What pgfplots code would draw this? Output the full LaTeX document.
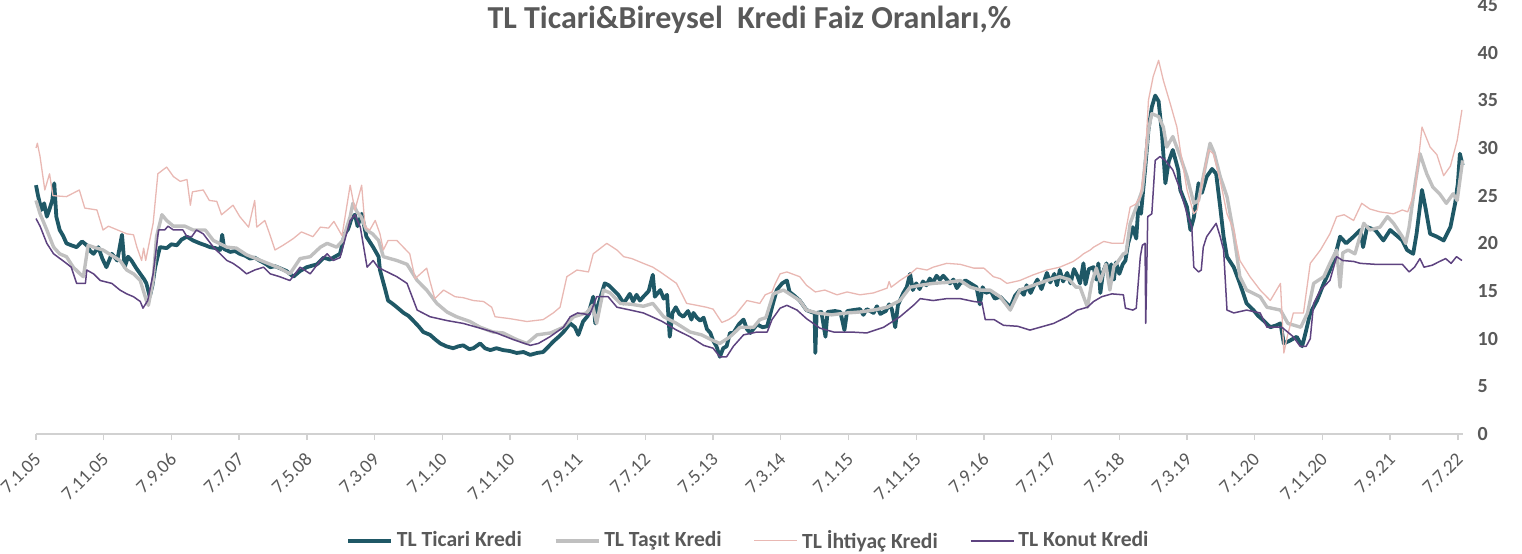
\documentclass[border=0pt]{standalone}
\usepackage{fontspec}
\setmainfont{Carlito}
\usepackage{pgfplots}
\pgfplotsset{compat=1.18}
\definecolor{ticari}{HTML}{1F5866}
\definecolor{tasit}{HTML}{C0C0C0}
\definecolor{ihtiyac}{HTML}{E9B8B3}
\definecolor{konut}{HTML}{5E4380}
\definecolor{txt}{HTML}{595959}
\begin{document}
\begin{tikzpicture}
\path[use as bounding box] (-18pt,-59.5pt) rectangle (743pt,217pt);
\begin{axis}[
 at={(0,0)}, anchor=south west,
 scale only axis, width=713.3pt, height=214.5pt,
 xmin=0, xmax=210.7, ymin=0, ymax=45,
 axis x line*=bottom, axis y line*=right,
 x axis line style={draw=black!18, line width=0.7pt, -},
 y axis line style={draw=none},
 xtick={0,10,...,210},
 xticklabels={7.1.05,7.11.05,7.9.06,7.7.07,7.5.08,7.3.09,7.1.10,7.11.10,7.9.11,7.7.12,7.5.13,7.3.14,7.1.15,7.11.15,7.9.16,7.7.17,7.5.18,7.3.19,7.1.20,7.11.20,7.9.21,7.7.22},
 ytick={0,5,...,45},
 tick align=outside, major tick length=3pt,
 xtick style={draw=black!18, line width=0.7pt},
 ytick style={draw=none},
 xticklabel style={yshift=-8pt, xshift=1pt, rotate=45, anchor=east, font=\fontsize{9.5}{10}\selectfont, text=txt, inner sep=0pt},
 yticklabel style={font=\fontsize{10}{12}\selectfont\bfseries, text=txt, anchor=west, xshift=1pt},
 /pgf/number format/assume math mode=true,
 legend style={at={(0.5,-0.249)}, anchor=center, draw=none, fill=none, legend columns=4,
   font=\fontsize{10.8}{12}\selectfont\bfseries, text=txt,
   /tikz/every even column/.append style={column sep=14pt}},
 legend image code/.code={\draw[#1] (0pt,0pt) -- (21.5pt,0pt);},
 clip=false,
 every axis plot/.append style={line join=round, mark=none},
]
\addplot[ticari, line width=1.9pt] coordinates {
(0,26.1)(0.3,25.0)(0.8,23.5)(1.2,24.2)(1.6,22.8)(2.0,23.6)(2.4,24.5)(2.7,26.3)(3.0,22.8)(3.5,21.4)(4.0,20.8)(4.5,20.0)(5.2,19.8)(6.0,19.6)(6.8,20.2)(7.5,19.8)(8.0,19.2)(8.5,18.9)(9.2,19.6)(9.8,18.4)(10.4,17.5)(11.2,18.9)(12.0,18.2)(12.7,20.9)(13.1,17.5)(13.6,18.6)(14.1,18.2)(14.8,17.4)(15.4,16.8)(16.0,16.2)(16.3,15.8)(16.8,14.4)(17.2,15.6)(17.6,17.5)(18.3,19.6)(19.3,19.5)(20.0,19.9)(20.8,19.8)(21.5,20.4)(22.3,20.7)(23.2,20.3)(24.2,20.0)(25.0,19.8)(25.7,19.6)(26.5,19.5)(27.2,19.3)(27.5,20.9)(27.8,19.4)(28.7,19.1)(29.4,19.2)(30.1,18.9)(30.9,18.7)(31.6,18.4)(32.3,18.5)(33.0,18.2)(33.8,17.9)(34.6,17.5)(35.3,17.6)(36.0,17.4)(37.0,17.1)(38.0,16.5)(39.0,17.1)(40.0,17.5)(41.5,17.8)(42.5,18.5)(43.4,18.3)(43.9,18.5)(44.9,18.9)(45.6,21.0)(46.1,21.5)(46.6,22.6)(47.1,23.0)(47.5,21.8)(48.1,23.1)(48.8,20.7)(49.8,19.6)(50.6,18.6)(50.8,17.2)(51.6,15.1)(52.0,14.0)(52.6,13.7)(53.3,13.3)(54.3,12.7)(55.0,12.4)(55.7,11.9)(56.5,11.3)(57.2,10.7)(58.2,10.4)(59.0,9.9)(59.7,9.5)(60.6,9.2)(61.6,9.0)(62.4,9.2)(63.1,9.3)(64.0,8.9)(64.6,9.0)(65.6,9.5)(66.3,9.0)(67.1,8.8)(68.0,9.0)(69.0,8.8)(70.0,8.7)(71.0,8.5)(72.0,8.6)(73.0,8.3)(74.0,8.5)(74.9,8.6)(75.6,9.1)(76.4,9.7)(77.2,10.2)(77.9,10.7)(78.9,11.6)(79.6,11.2)(80.1,10.4)(80.8,11.8)(81.5,12.4)(82.3,14.4)(82.6,11.6)(83.0,13.5)(84.0,15.8)(84.6,15.6)(85.3,15.1)(86.0,14.6)(86.8,13.7)(87.7,14.7)(88.2,13.9)(88.7,14.6)(89.2,14.0)(89.7,14.4)(90.5,15.0)(91.1,16.7)(91.4,14.4)(92.2,15.1)(92.7,14.2)(93.2,14.6)(93.6,10.2)(94.0,12.7)(94.5,13.3)(95.0,12.6)(95.6,12.3)(96.3,12.9)(96.8,12.0)(97.1,12.7)(97.6,12.2)(98.1,11.9)(98.6,12.2)(99.1,11.0)(99.6,10.6)(100.0,9.8)(100.5,9.2)(101.0,8.1)(101.5,9.0)(102.0,9.2)(102.5,10.6)(103.0,10.6)(103.8,11.5)(104.5,12.0)(105.0,11.0)(105.5,10.6)(106.5,11.5)(107.3,11.2)(108.0,11.3)(108.7,13.3)(109.4,15.1)(110.2,15.8)(110.9,16.1)(111.3,14.9)(112.0,14.5)(112.8,14.0)(113.8,13.0)(114.5,12.8)(115.0,12.7)(115.1,8.5)(115.3,12.7)(116.0,12.8)(116.6,10.2)(116.9,12.8)(118.0,12.9)(118.8,12.8)(119.4,10.9)(119.8,12.9)(120.7,13.0)(121.7,13.1)(122.2,12.5)(122.7,13.1)(123.7,12.7)(124.2,13.4)(124.7,12.6)(125.5,12.9)(126.0,13.6)(126.4,13.1)(126.9,11.2)(127.3,13.5)(127.6,14.0)(128.1,14.8)(128.6,15.4)(129.1,16.8)(129.5,15.1)(130.0,15.8)(130.5,15.2)(131.0,16.0)(131.5,15.6)(132.0,16.3)(132.5,15.9)(133.0,16.6)(133.5,16.2)(134.0,16.6)(134.5,16.2)(135.0,15.8)(135.5,16.2)(136.0,15.3)(136.5,15.8)(137.3,16.1)(138.0,15.8)(138.9,15.4)(139.4,13.6)(139.8,15.4)(140.3,14.8)(141.0,15.0)(141.6,14.2)(142.4,14.4)(143.2,13.8)(143.9,13.3)(144.6,14.5)(145.3,15.1)(145.9,14.6)(146.3,15.6)(146.9,14.8)(147.3,15.4)(147.9,16.2)(148.5,15.2)(149.3,16.9)(149.8,15.9)(150.4,16.8)(150.8,15.6)(151.2,17.2)(151.7,16.0)(152.3,16.9)(152.8,15.8)(153.3,17.3)(153.8,16.6)(154.2,15.8)(154.7,17.9)(155.0,15.7)(155.5,17.3)(156.2,17.5)(156.6,16.2)(156.9,17.9)(157.2,14.8)(157.6,17.0)(158.1,17.9)(158.5,16.3)(158.8,17.8)(159.2,16.2)(159.5,18.0)(160.0,16.8)(160.5,17.8)(160.9,18.2)(161.3,20.0)(162.0,21.7)(162.5,20.5)(162.8,23.8)(163.2,23.1)(163.8,27.7)(164.3,31.9)(164.8,34.3)(165.3,35.5)(165.8,34.9)(166.3,31.5)(166.8,26.3)(167.3,28.6)(167.9,29.8)(168.7,27.7)(169.0,25.6)(170.0,23.8)(170.5,21.4)(171.0,22.7)(171.7,26.3)(172.2,25.3)(172.9,27.0)(173.7,27.8)(174.3,27.3)(174.9,23.8)(175.4,20.7)(175.9,18.6)(176.9,17.5)(177.8,15.8)(178.8,13.7)(179.8,13.0)(180.5,12.4)(181.3,11.9)(182.3,11.2)(183.2,11.4)(183.8,11.6)(184.3,9.5)(185.2,9.8)(186.2,10.2)(187.0,9.2)(187.5,10.6)(188.2,12.7)(189.2,14.0)(190.2,15.8)(191.1,17.2)(192.1,19.3)(192.6,20.7)(193.5,20.0)(194.6,20.7)(195.6,21.4)(196.0,19.6)(196.6,21.7)(197.8,21.4)(199.0,20.3)(200.0,21.4)(201.0,20.8)(201.8,20.3)(202.5,19.3)(203.4,18.9)(203.9,21.0)(204.7,25.6)(205.2,23.8)(205.9,21.0)(206.9,20.7)(207.9,20.3)(208.9,21.7)(209.6,24.2)(210.0,26.3)(210.3,29.4)(210.7,28.2)
};
\addlegendentry{TL Ticari Kredi}
\addplot[tasit, line width=1.7pt] coordinates {
(0,24.5)(0.6,23.1)(1.6,21.4)(2.6,19.6)(3.5,18.9)(4.5,18.6)(5.5,17.5)(6.5,16.8)(7.0,16.5)(7.7,19.8)(8.5,19.6)(9.9,19.3)(10.8,18.9)(12.4,18.2)(13.4,17.2)(14.4,16.8)(15.4,16.1)(16.3,14.0)(16.6,13.5)(17.3,16.1)(17.8,20.7)(18.6,23.0)(19.3,22.4)(20.3,21.8)(22.0,21.8)(23.2,21.4)(25.0,21.4)(26.2,20.3)(28.2,19.6)(29.6,19.5)(31.1,18.8)(32.5,18.4)(34.6,17.8)(36.0,17.4)(37.5,16.8)(39.0,18.4)(40.5,18.6)(42.0,19.6)(43.0,20.0)(44.4,19.6)(45.3,20.3)(46.4,22.8)(46.8,24.2)(47.4,23.3)(48.0,22.8)(48.8,21.4)(49.7,21.0)(50.6,20.3)(51.3,18.6)(53.3,18.2)(54.8,17.8)(56.3,16.1)(57.7,15.1)(59.2,13.7)(60.7,12.8)(62.1,12.3)(64.1,11.8)(65.6,11.2)(67.5,10.7)(69.0,10.6)(71.0,9.9)(72.5,9.5)(74.0,10.4)(76.0,10.6)(77.9,11.2)(79.4,12.3)(81.3,12.7)(82.2,13.5)(82.8,11.6)(83.8,15.1)(84.8,14.8)(86.3,13.7)(88.0,13.6)(89.7,13.4)(91.1,13.7)(92.7,12.3)(94.6,11.6)(96.6,10.7)(98.3,10.4)(100.0,9.8)(101.0,9.5)(102.5,10.2)(104.0,11.2)(106.0,11.2)(106.9,12.0)(107.8,12.2)(108.9,14.7)(110.4,15.1)(111.5,14.6)(112.8,14.0)(113.8,13.0)(115.3,12.7)(117.5,12.5)(119.8,12.7)(121.7,12.8)(123.7,13.0)(125.7,13.3)(127.6,14.0)(129.1,15.4)(130.6,15.6)(132.5,15.8)(134.5,15.9)(136.5,16.1)(138.0,15.4)(139.5,15.1)(140.9,15.1)(142.4,14.4)(143.9,13.0)(145.3,15.1)(147.3,15.6)(149.3,16.1)(151.2,16.5)(152.6,16.2)(153.6,15.4)(154.2,15.4)(155.3,13.3)(155.9,15.8)(156.6,17.4)(157.2,16.0)(158.0,17.8)(158.6,15.1)(159.2,17.6)(159.6,17.9)(160.6,18.9)(161.0,19.0)(161.6,22.1)(162.5,23.8)(163.4,25.6)(164.3,31.9)(164.8,33.6)(165.8,33.3)(166.5,32.2)(167.0,30.1)(167.9,31.2)(169.0,29.1)(170.0,27.0)(171.0,24.2)(171.7,24.5)(172.4,27.0)(173.4,30.5)(174.0,29.5)(174.9,27.0)(175.9,24.9)(176.9,21.0)(177.8,16.5)(178.8,15.1)(180.8,14.4)(181.8,13.3)(183.8,13.0)(184.9,11.6)(186.8,11.2)(187.8,12.7)(188.7,15.8)(190.2,16.5)(191.1,17.9)(192.1,19.3)(192.6,15.4)(193.0,19.0)(193.8,19.3)(194.8,18.9)(196.1,22.1)(197.0,21.4)(198.5,21.7)(199.6,22.8)(200.5,22.1)(201.8,20.7)(202.3,20.0)(202.8,21.7)(203.7,26.3)(204.4,29.4)(205.4,27.3)(206.3,25.9)(207.3,25.2)(208.3,24.2)(209.3,25.2)(209.9,24.5)(210.7,28.7)
};
\addlegendentry{TL Taşıt Kredi}
\addplot[ihtiyac, line width=0.65pt] coordinates {
(0,30.0)(0.2,30.5)(0.6,29.1)(1.3,25.6)(2.0,27.3)(2.5,25.0)(4.5,24.9)(6.4,25.6)(7.2,23.7)(9.0,23.5)(9.9,21.4)(10.7,21.8)(13.4,21.0)(14.4,20.9)(14.9,19.6)(15.6,18.2)(15.9,19.5)(16.2,18.2)(17.3,22.1)(18.0,27.3)(19.3,28.0)(20.3,27.0)(21.3,26.5)(22.3,26.7)(22.8,24.0)(23.1,25.4)(24.7,25.6)(25.6,24.5)(26.7,24.4)(27.4,23.0)(29.1,24.0)(30.1,22.8)(31.4,21.7)(32.3,24.5)(32.6,21.7)(33.8,22.4)(34.5,21.0)(35.3,19.3)(36.5,19.8)(38.0,20.5)(39.2,21.2)(40.9,20.7)(42.0,21.7)(43.2,21.6)(44.0,22.3)(45.2,20.8)(46.4,26.1)(47.1,23.5)(48.1,26.1)(48.6,21.7)(49.3,21.4)(50.1,22.4)(50.8,21.0)(51.3,19.3)(52.0,20.3)(53.3,20.3)(55.2,18.9)(56.0,16.3)(57.7,17.4)(58.2,16.0)(58.9,14.2)(60.2,15.1)(61.9,14.4)(63.1,14.3)(64.6,14.0)(66.1,13.9)(67.3,13.3)(67.8,12.3)(70.0,12.1)(72.5,11.8)(74.9,12.0)(76.4,12.7)(77.4,13.3)(78.4,16.5)(79.9,17.2)(81.6,17.0)(82.3,18.9)(84.3,20.0)(85.8,19.3)(86.8,18.6)(88.0,18.4)(89.7,17.9)(91.1,17.5)(92.2,17.0)(94.6,15.8)(96.1,13.7)(97.6,13.5)(99.0,13.3)(100.0,13.1)(101.3,11.7)(102.3,12.0)(103.3,12.5)(105.0,14.0)(106.9,13.7)(107.7,14.6)(108.7,14.9)(109.2,15.8)(109.9,16.8)(110.9,17.0)(112.8,16.5)(113.8,15.6)(115.1,14.9)(116.5,15.1)(118.3,14.6)(119.8,14.9)(121.7,14.6)(123.7,14.8)(125.7,15.3)(126.0,16.0)(126.3,15.4)(127.6,16.1)(129.1,16.8)(130.1,17.4)(131.6,17.2)(132.5,17.5)(134.5,17.9)(136.5,17.8)(138.5,17.4)(140.0,17.4)(141.4,16.5)(142.4,16.3)(143.4,15.8)(145.3,16.1)(147.3,16.7)(149.3,17.2)(151.2,17.5)(153.2,18.1)(154.2,18.6)(154.7,18.9)(155.7,19.3)(156.2,19.6)(157.7,20.2)(159.0,20.0)(160.6,20.0)(161.6,23.8)(162.4,24.1)(163.1,24.9)(163.8,28.4)(164.3,35.0)(165.0,37.5)(165.8,39.2)(166.5,37.1)(167.5,34.7)(168.5,32.2)(169.0,29.8)(170.0,25.6)(171.0,23.1)(171.5,23.5)(172.4,27.0)(173.2,29.8)(173.9,29.4)(174.9,26.6)(175.9,23.1)(176.9,21.4)(177.8,18.2)(179.3,16.5)(180.8,15.1)(182.3,14.0)(183.8,15.8)(184.3,8.5)(184.8,10.2)(185.7,12.7)(187.2,12.7)(188.2,17.9)(189.7,19.3)(191.1,21.0)(192.1,22.8)(193.2,23.0)(194.6,22.4)(195.8,24.2)(197.0,23.6)(198.5,23.3)(200.5,23.1)(201.8,23.5)(202.6,23.3)(203.7,25.6)(204.7,32.2)(205.9,30.1)(206.9,29.3)(207.9,27.1)(208.9,28.1)(209.9,30.8)(210.6,34.0)
};
\addlegendentry{TL İhtiyaç Kredi}
\addplot[konut, line width=0.75pt] coordinates {
(0,22.6)(0.6,21.8)(1.6,20.0)(2.6,18.9)(4.5,17.9)(5.2,17.5)(6.0,15.8)(7.3,15.8)(7.5,17.2)(8.5,16.8)(9.5,16.1)(11.2,15.8)(12.4,15.1)(13.4,14.7)(14.4,14.4)(15.4,13.9)(15.8,13.2)(16.5,14.0)(17.3,16.8)(18.1,21.4)(19.0,21.4)(19.5,21.8)(20.3,21.4)(21.7,21.4)(22.3,20.7)(23.0,20.7)(23.7,21.4)(24.7,21.0)(26.2,19.6)(28.2,18.2)(29.1,17.9)(30.1,17.4)(31.1,16.8)(32.3,17.2)(33.6,17.5)(34.6,16.8)(36.0,16.5)(37.5,16.1)(39.0,17.5)(40.5,16.8)(42.0,18.2)(43.0,18.9)(43.9,18.2)(44.9,18.5)(46.4,22.4)(47.1,23.0)(47.9,21.7)(48.9,17.5)(49.8,18.2)(50.5,17.5)(51.3,17.2)(53.3,16.5)(54.8,15.8)(56.3,13.0)(58.2,12.3)(60.7,11.9)(63.1,11.6)(65.6,11.1)(68.0,10.6)(70.5,9.9)(73.0,9.3)(74.2,9.5)(75.9,10.2)(77.9,11.2)(78.9,12.3)(80.0,12.7)(81.8,12.5)(82.8,14.4)(84.5,14.4)(85.8,13.3)(87.8,13.0)(89.7,12.7)(91.6,12.1)(92.5,11.8)(94.6,10.9)(96.6,10.2)(98.6,9.3)(100.0,9.0)(101.0,8.1)(102.0,8.1)(103.0,9.2)(104.5,10.4)(106.5,10.7)(108.0,10.7)(108.7,12.0)(109.9,13.2)(110.9,13.5)(112.4,13.0)(113.8,12.1)(115.8,11.1)(117.8,10.7)(120.3,10.7)(122.7,10.6)(125.2,11.2)(127.6,12.3)(129.6,13.5)(130.6,14.2)(132.5,14.0)(134.5,14.2)(136.5,14.2)(138.5,13.9)(139.7,13.8)(140.2,12.0)(141.5,12.0)(142.9,11.4)(145.0,11.3)(146.8,10.9)(148.3,11.2)(150.3,11.6)(152.3,12.3)(153.8,13.0)(155.3,13.3)(156.2,13.9)(157.4,14.4)(158.9,14.7)(160.6,14.6)(160.9,13.2)(162.0,13.0)(162.5,13.2)(163.1,18.6)(163.4,19.8)(163.8,20.0)(163.9,11.6)(164.2,22.8)(164.8,23.1)(165.3,28.7)(166.0,29.1)(166.8,28.7)(167.9,27.7)(169.0,25.6)(170.0,23.1)(170.7,21.7)(171.0,17.5)(171.7,17.0)(172.1,17.2)(172.4,19.6)(172.9,20.7)(173.9,21.7)(174.3,22.1)(174.9,20.7)(175.4,19.3)(175.9,13.0)(176.9,12.7)(178.8,13.0)(180.8,12.7)(181.8,11.2)(184.0,11.2)(185.7,10.2)(186.7,9.2)(187.6,9.2)(188.2,10.0)(188.7,13.7)(189.7,15.1)(191.1,16.1)(192.1,18.6)(193.0,18.2)(194.6,18.1)(195.6,17.9)(197.8,17.8)(199.8,17.8)(201.8,17.8)(202.8,17.0)(203.6,17.5)(204.4,18.4)(205.0,17.5)(206.2,17.7)(207.3,18.1)(208.2,18.4)(209.0,17.9)(209.8,18.6)(210.6,18.2)
};
\addlegendentry{TL Konut Kredi}
\node[font=\fontsize{16}{18}\selectfont\bfseries, text=txt, anchor=center] at (rel axis cs:0.5,0.965) {TL Ticari\&Bireysel\ \ Kredi Faiz Oranları,\%};
\end{axis}
\end{tikzpicture}
\end{document}
